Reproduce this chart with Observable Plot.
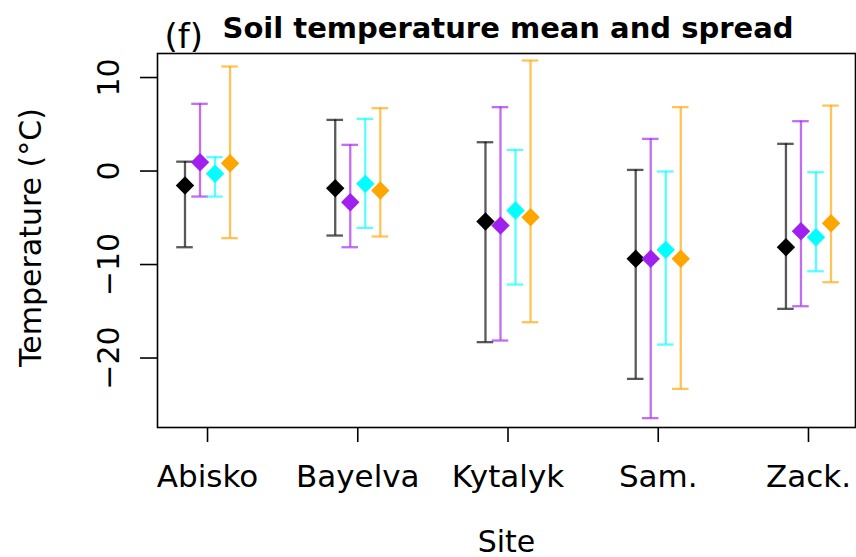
<!DOCTYPE html>
<html>
<head>
<meta charset="utf-8">
<script src="https://cdn.jsdelivr.net/npm/d3@7"></script>
<script src="https://cdn.jsdelivr.net/npm/@observablehq/plot@0.6"></script>
<style>
  html, body { margin: 0; padding: 0; background: white; }
</style>
</head>
<body>
<div id="chart"></div>
<script>
// ---- data ----
const sites = ["Abisko", "Bayelva", "Kytalyk", "Sam.", "Zack."];
const seriesNames = ["Series 1", "Series 2", "Series 3", "Series 4"];
const seriesColors = ["#000000", "#a020f0", "#00ffff", "#ffa500"];
const seriesOffsets = [-0.15, -0.05, 0.05, 0.15];

const meanS1 = [-1.55, -1.84, -5.4, -9.39, -8.15];
const meanS2 = [0.94, -3.33, -5.83, -9.39, -6.44];
const meanS3 = [-0.3, -1.37, -4.22, -8.43, -7.08];
const meanS4 = [0.84, -2.09, -4.94, -9.39, -5.58];

const upperS1 = [1.0, 5.47, 3.08, 0.12, 2.91];
const upperS2 = [7.19, 2.8, 6.83, 3.44, 5.33];
const upperS3 = [1.48, 5.58, 2.26, -0.05, -0.13];
const upperS4 = [11.18, 6.72, 11.82, 6.83, 7.0];

const lowerS1 = [-8.15, -6.9, -18.3, -22.23, -14.74];
const lowerS2 = [-2.73, -8.15, -18.13, -26.43, -14.46];
const lowerS3 = [-2.73, -6.08, -12.14, -18.56, -10.72];
const lowerS4 = [-7.18, -7.0, -16.17, -23.3, -11.89];

const yTicks = [-20, -10, 0, 10];

// ---- build table ----
const means = [meanS1, meanS2, meanS3, meanS4];
const uppers = [upperS1, upperS2, upperS3, upperS4];
const lowers = [lowerS1, lowerS2, lowerS3, lowerS4];
const rows = [];
seriesNames.forEach((s, j) => {
  sites.forEach((site, i) => {
    rows.push({
      series: s, site, x: i + 1 + seriesOffsets[j],
      mean: means[j][i], upper: uppers[j][i], lower: lowers[j][i]
    });
  });
});
const capHalf = 0.055;
const siteIdx = sites.map((_, i) => i + 1);

const plot = Plot.plot({
  width: 856,
  height: 557,
  marginLeft: 157,
  marginRight: 1,
  marginTop: 53,
  marginBottom: 130,
  style: { fontFamily: "DejaVu Sans", fontSize: "30px", background: "white", color: "black" },
  x: { domain: [0.667, 5.313] },
  y: { domain: [-27.43, 12.57] },
  color: { domain: seriesNames, range: seriesColors },
  marks: [
    Plot.frame({ stroke: "black", strokeWidth: 1.6 }),
    Plot.axisX({
      ticks: siteIdx, tickFormat: (d) => sites[d - 1], tickSize: 15, tickPadding: 22,
      fontSize: 31, label: null, strokeWidth: 1.6
    }),
    Plot.axisY({
      ticks: yTicks, tickSize: 17, tickPadding: 22, tickRotate: -90,
      fontSize: 30, label: null, strokeWidth: 1.6
    }),
    // error bar stems
    Plot.ruleX(rows, { x: "x", y1: "lower", y2: "upper", stroke: "series", strokeWidth: 2.3, strokeOpacity: 0.65 }),
    // caps
    Plot.ruleY(rows, { y: "upper", x1: (d) => d.x - capHalf, x2: (d) => d.x + capHalf, stroke: "series", strokeWidth: 2.3, strokeOpacity: 0.65 }),
    Plot.ruleY(rows, { y: "lower", x1: (d) => d.x - capHalf, x2: (d) => d.x + capHalf, stroke: "series", strokeWidth: 2.3, strokeOpacity: 0.65 }),
    // means
    Plot.dot(rows, { x: "x", y: "mean", fill: "series", symbol: "diamond2", r: 8.3 }),
    // axis titles
    Plot.text(["Temperature (\u00B0C)"], {
      text: (d) => d, frameAnchor: "left", rotate: -90, textAnchor: "middle",
      lineAnchor: "bottom", dx: -117, dy: -3, fontSize: 30
    }),
    Plot.text(["Site"], {
      text: (d) => d, frameAnchor: "bottom", lineAnchor: "bottom", dy: 124, fontSize: 30
    }),
    // title
    Plot.text(["(f)"], {
      text: (d) => d, frameAnchor: "top-left", textAnchor: "start", lineAnchor: "bottom",
      dx: 7, dy: -6, fontSize: 34
    }),
    Plot.text(["Soil temperature mean and spread"], {
      text: (d) => d, frameAnchor: "top-left", textAnchor: "start", lineAnchor: "bottom",
      dx: 65, dy: -16, fontSize: 29, fontWeight: "bold"
    })
  ]
});
document.getElementById("chart").appendChild(plot);
</script>
</body>
</html>
